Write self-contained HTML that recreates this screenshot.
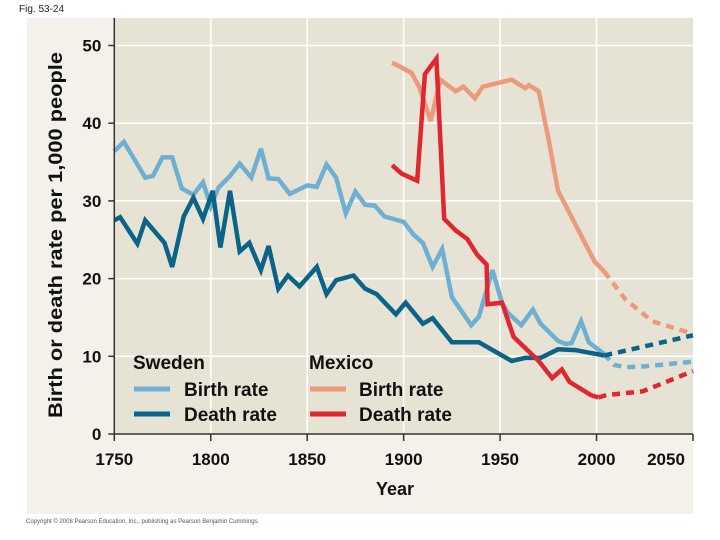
<!DOCTYPE html>
<html><head><meta charset="utf-8"><style>
html,body{margin:0;padding:0;background:#fff;width:720px;height:540px;overflow:hidden}
svg{display:block;font-family:"Liberation Sans",Arial,sans-serif}
</style></head><body>
<svg id="chart" width="720" height="540" viewBox="0 0 720 540">
<text x="19" y="12" font-size="10" fill="#222">Fig. 53-24</text>
<rect x="27" y="18" width="666" height="496" fill="#f3f1ea"/>
<rect x="114" y="18" width="579" height="416" fill="#e6e3d5"/>
<g id="grid"></g>
<g id="series"></g>
<g id="axes"></g>
<text transform="translate(62,235) rotate(-90)" text-anchor="middle" font-size="19" font-weight="bold" fill="#111" textLength="366" lengthAdjust="spacingAndGlyphs">Birth or death rate per 1,000 people</text>
<text x="395" y="495" text-anchor="middle" font-size="18" font-weight="bold" fill="#111">Year</text>
<g font-size="19" font-weight="bold" fill="#111">
<text x="133" y="369">Sweden</text>
<line x1="134" y1="389" x2="170" y2="389" stroke="#6fb0d2" stroke-width="5"/>
<text x="184" y="396">Birth rate</text>
<line x1="134" y1="414" x2="170" y2="414" stroke="#0b6487" stroke-width="5"/>
<text x="184" y="421">Death rate</text>
<text x="309" y="369">Mexico</text>
<line x1="310" y1="389" x2="346" y2="389" stroke="#ec9a7c" stroke-width="5"/>
<text x="359" y="396">Birth rate</text>
<line x1="310" y1="414" x2="346" y2="414" stroke="#e0262e" stroke-width="5"/>
<text x="359" y="421">Death rate</text>
</g>
<text x="26" y="523" font-size="6" fill="#555">Copyright © 2008 Pearson Education, Inc., publishing as Pearson Benjamin Cummings.</text>
</svg>
<script>
const yTicks=[0,10,20,30,40,50];
const xTicks=[1750,1800,1850,1900,1950,2000,2050];
const sweBirthYears=[1750,1755,1766,1770,1775,1780,1785,1791,1796,1800,1804,1810,1815,1821,1826,1830,1835,1841,1850,1855,1860,1865,1870,1875,1880,1885,1890,1900,1905,1910,1915,1920,1925,1935,1939,1946,1951,1954,1961,1967,1971,1980,1984,1987,1992,1996,2004];
const sweBirthVals=[36.4,37.6,33.0,33.2,35.6,35.6,31.6,30.8,32.4,29.3,31.7,33.2,34.8,33.0,36.7,32.9,32.8,30.9,32.0,31.8,34.7,33.0,28.4,31.2,29.5,29.4,28.0,27.3,25.7,24.6,21.5,23.8,17.6,14.0,15.1,21.1,16.9,15.6,14.0,16.0,14.2,12.0,11.6,11.7,14.5,11.8,10.3];
const sweBirthProjYears=[2004,2009,2015,2025,2050];
const sweBirthProjVals=[10.3,8.9,8.6,8.7,9.3];
const sweDeathYears=[1750,1753,1762,1766,1776,1780,1786,1791,1796,1801,1805,1810,1815,1820,1826,1830,1835,1840,1846,1855,1860,1865,1874,1880,1886,1896,1901,1910,1915,1925,1939,1956,1963,1971,1980,1989,2004];
const sweDeathVals=[27.5,27.9,24.5,27.5,24.6,21.5,28.0,30.4,27.7,31.3,24.0,31.3,23.5,24.6,21.1,24.2,18.7,20.4,19.0,21.5,18.0,19.8,20.4,18.7,18.0,15.4,16.9,14.2,14.9,11.8,11.8,9.4,9.8,9.8,10.9,10.8,10.1];
const sweDeathProjYears=[2004,2050];
const sweDeathProjVals=[10.1,12.7];
const mexBirthYears=[1894,1904,1908,1914,1919,1927,1931,1937,1941,1956,1963,1965,1970,1975,1980,1999,2004];
const mexBirthVals=[47.8,46.5,44.7,40.3,45.6,44.1,44.7,43.2,44.7,45.6,44.5,44.9,44.1,38.1,31.3,22.2,20.9];
const mexBirthProjYears=[2004,2015,2029,2050];
const mexBirthProjVals=[20.9,17.3,14.5,12.9];
const mexDeathYears=[1894,1899,1907,1911,1917,1921,1927,1933,1938,1943,1943.5,1951,1957,1970,1977,1982,1986,1997,2001];
const mexDeathVals=[34.6,33.5,32.6,46.3,48.3,27.7,26.2,25.1,23.1,21.8,16.7,16.9,12.5,9.4,7.2,8.3,6.7,5.0,4.7];
const mexDeathProjYears=[2001,2005,2024,2050];
const mexDeathProjVals=[4.7,5.0,5.5,8.1];

const NS='http://www.w3.org/2000/svg';
const X0=114.3,X1=693,Y0=434,Y1=45.5;
function xs(y){return X0+(y-1750)*(X1-X0)/300;}
function ys(v){return Y0-v*(Y0-Y1)/50;}
const grid=document.getElementById('grid'),axes=document.getElementById('axes'),series=document.getElementById('series');
function mk(tag,attrs,parent){const e=document.createElementNS(NS,tag);for(const k in attrs)e.setAttribute(k,attrs[k]);parent.appendChild(e);return e;}
yTicks.forEach(v=>{
  if(v>0){const g=mk('line',{x1:X0,x2:X1,y1:ys(v),y2:ys(v),stroke:'#fff','stroke-width':1.5},grid);
  
  }
  const t=mk('line',{x1:X0-6,x2:X0,y1:ys(v),y2:ys(v),stroke:'#333','stroke-width':1.5},axes);
  
  
  const l=mk('text',{x:X0-13,y:ys(v)+6,'text-anchor':'end','font-size':17,'font-weight':'bold',fill:'#111'},axes);
  l.textContent=v;
  
  
});
xTicks.forEach((yr,i)=>{
  if(yr>1750&&yr<2050){const g=mk('line',{x1:xs(yr),x2:xs(yr),y1:18,y2:Y0,stroke:'#fff','stroke-width':1.5},grid);
  
  }
  const t=mk('line',{x1:xs(yr),x2:xs(yr),y1:Y0,y2:Y0+7,stroke:'#333','stroke-width':1.5},axes);
  
  
  const lx=(i===xTicks.length-1)?xs(yr)-27:xs(yr);
  const l=mk('text',{x:lx,y:Y0+31,'text-anchor':'middle','font-size':17,'font-weight':'bold',fill:'#111'},axes);
  l.textContent=yr;
  
  
});
const ya=mk('line',{x1:X0,x2:X0,y1:18,y2:Y0,stroke:'#333','stroke-width':1.5},axes);


const xa=mk('line',{x1:X0,x2:X1,y1:Y0,y2:Y0,stroke:'#333','stroke-width':1.5},axes);


function line(yrs,vals,color,dash,name){
  const d=yrs.map((y,i)=>(i?'L':'M')+xs(y).toFixed(1)+','+ys(vals[i]).toFixed(1)).join(' ');
  const p=mk('path',{d:d,fill:'none',stroke:color,'stroke-width':4.5,'stroke-linejoin':'miter','stroke-miterlimit':3},series);
  if(dash)p.setAttribute('stroke-dasharray','8,6');
  
  
}
line(sweBirthYears,sweBirthVals,'#6fb0d2',false,'sweden-birth-line');
line(sweBirthProjYears,sweBirthProjVals,'#6fb0d2',true,'sweden-birth-projection');
line(sweDeathYears,sweDeathVals,'#0b6487',false,'sweden-death-line');
line(sweDeathProjYears,sweDeathProjVals,'#0b6487',true,'sweden-death-projection');
line(mexBirthYears,mexBirthVals,'#ec9a7c',false,'mexico-birth-line');
line(mexBirthProjYears,mexBirthProjVals,'#ec9a7c',true,'mexico-birth-projection');
line(mexDeathYears,mexDeathVals,'#e0262e',false,'mexico-death-line');
line(mexDeathProjYears,mexDeathProjVals,'#e0262e',true,'mexico-death-projection');
</script>
</body></html>
